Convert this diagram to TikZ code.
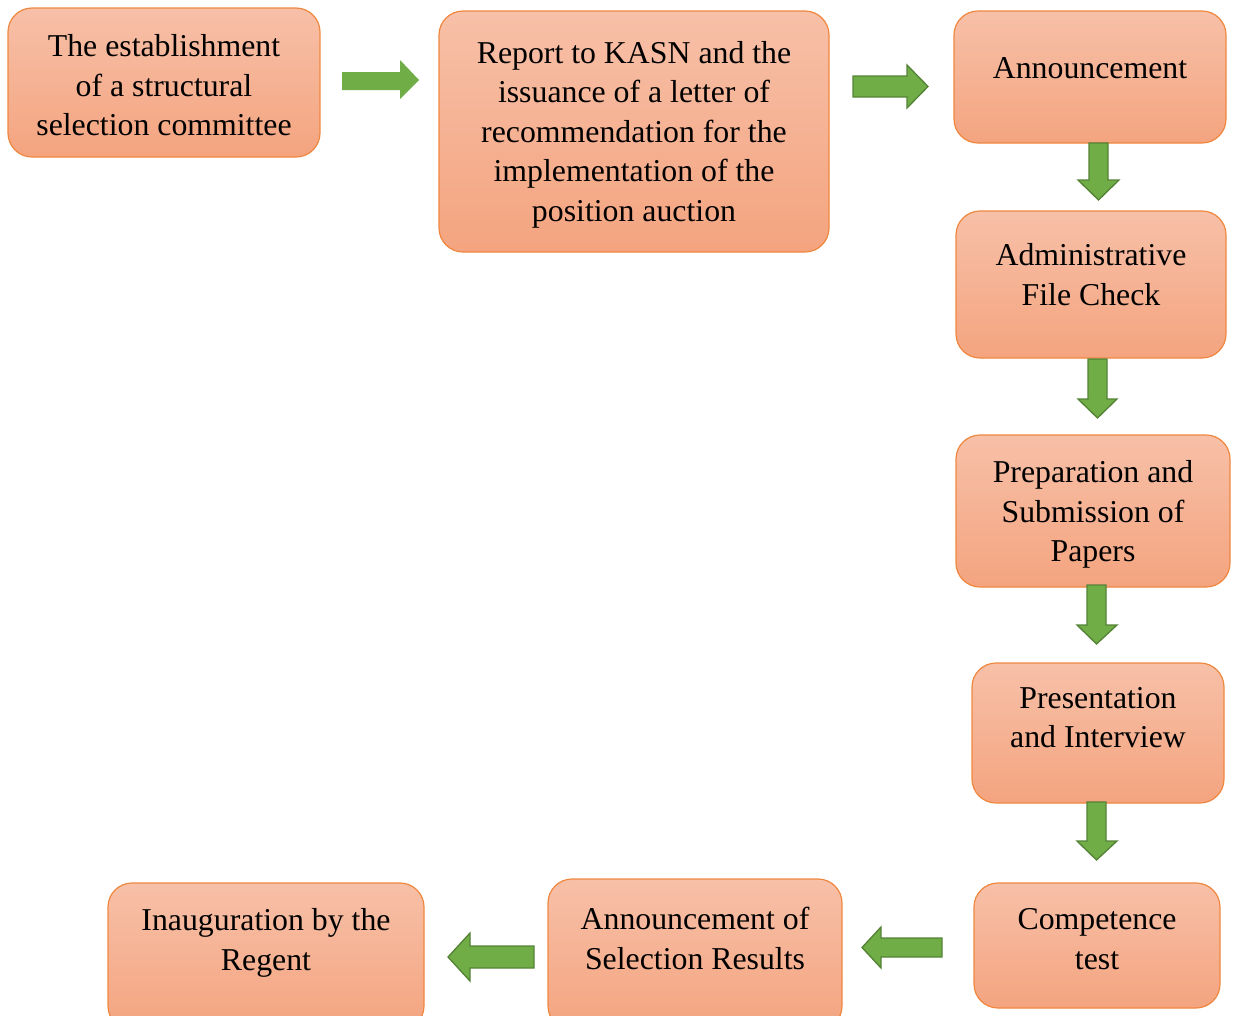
\documentclass[tikz,border=0pt]{standalone}
\usepackage{fontspec}
\setmainfont{Liberation Serif}
\definecolor{boxline}{HTML}{F0873F}
\definecolor{boxtop}{HTML}{F7C0A8}
\definecolor{boxbot}{HTML}{F4A47F}
\definecolor{arrowgreen}{HTML}{70AD47}
\definecolor{arrowline}{HTML}{548235}
\begin{document}
\begin{tikzpicture}[x=1pt,y=-1pt,
  box/.style={draw=boxline, line width=1.2pt, rounded corners=24pt,
    top color=boxtop, bottom color=boxbot, inner sep=0pt},
  txt/.style={align=center, font=\fontsize{31.8}{39.5}\selectfont, inner sep=0pt},
  garrow/.style={fill=arrowgreen, draw=arrowline, line width=1.3pt, line join=miter},
  flatarrow/.style={fill=arrowgreen, draw=none}]
\useasboundingbox (0,0) rectangle (1234,1015);
\clip (0,0) rectangle (1234,1015);

% boxes
\node[box, minimum width=312pt, minimum height=149pt] (b1) at (164,82.5) {};
\node[box, minimum width=390pt, minimum height=241pt] (b2) at (634,131.5) {};
\node[box, minimum width=272pt, minimum height=132pt] (b3) at (1090,77) {};
\node[box, minimum width=270pt, minimum height=147pt] (b4) at (1091,284.5) {};
\node[box, minimum width=274pt, minimum height=152pt] (b5) at (1093,511) {};
\node[box, minimum width=252pt, minimum height=140pt] (b6) at (1098,733) {};
\node[box, minimum width=246pt, minimum height=125pt] (b7) at (1097,945.5) {};
\node[box, minimum width=294pt, minimum height=151pt] (b8) at (695,954.5) {};
\node[box, minimum width=316pt, minimum height=147pt] (b9) at (266,956.5) {};

% texts
\node[txt] (t1) at (164,85.5) {The establishment\\of a structural\\selection committee};
\node[txt] (t2) at (634,134.5) {Report to KASN and the\\issuance of a letter of\\recommendation for the\\implementation of the\\position auction};
\node[txt] (t3) at (1090,68) {Announcement};
\node[txt] (t4) at (1091,274.5) {Administrative\\File Check};
\node[txt] (t5) at (1093,514.5) {Preparation and\\Submission of\\Papers};
\node[txt] (t6) at (1098,717.5) {Presentation\\and Interview};
\node[txt] (t7) at (1097,939) {Competence\\test};
\node[txt] (t8) at (695,938.5) {Announcement of\\Selection Results};
\node[txt] (t9) at (266,943) {Inauguration by the\\Regent};

% block arrows
\draw[flatarrow] (342,72) -- (400,72) -- (400,60) -- (419,80) -- (400,99) -- (400,90) -- (342,90) -- cycle;
\draw[garrow] (853,76) -- (907,76) -- (907,65) -- (928,86.5) -- (907,108) -- (907,97) -- (853,97) -- cycle;
\draw[garrow] (1089,143) -- (1108,143) -- (1108,180) -- (1119,180) -- (1098.5,200) -- (1078,180) -- (1089,180) -- cycle;
\draw[garrow] (1088,359) -- (1107,359) -- (1107,399) -- (1117,399) -- (1097.5,418) -- (1078,399) -- (1088,399) -- cycle;
\draw[garrow] (1087,585) -- (1106,585) -- (1106,625) -- (1117,625) -- (1096.5,644) -- (1077,625) -- (1087,625) -- cycle;
\draw[garrow] (1087,802) -- (1106,802) -- (1106,841) -- (1117,841) -- (1096.5,860) -- (1077,841) -- (1087,841) -- cycle;
\draw[garrow] (942,938) -- (881,938) -- (881,927) -- (862,947.5) -- (881,968) -- (881,957) -- (942,957) -- cycle;
\draw[garrow] (534,946) -- (470,946) -- (470,933) -- (448,957) -- (470,981) -- (470,968) -- (534,968) -- cycle;
\end{tikzpicture}
\end{document}
